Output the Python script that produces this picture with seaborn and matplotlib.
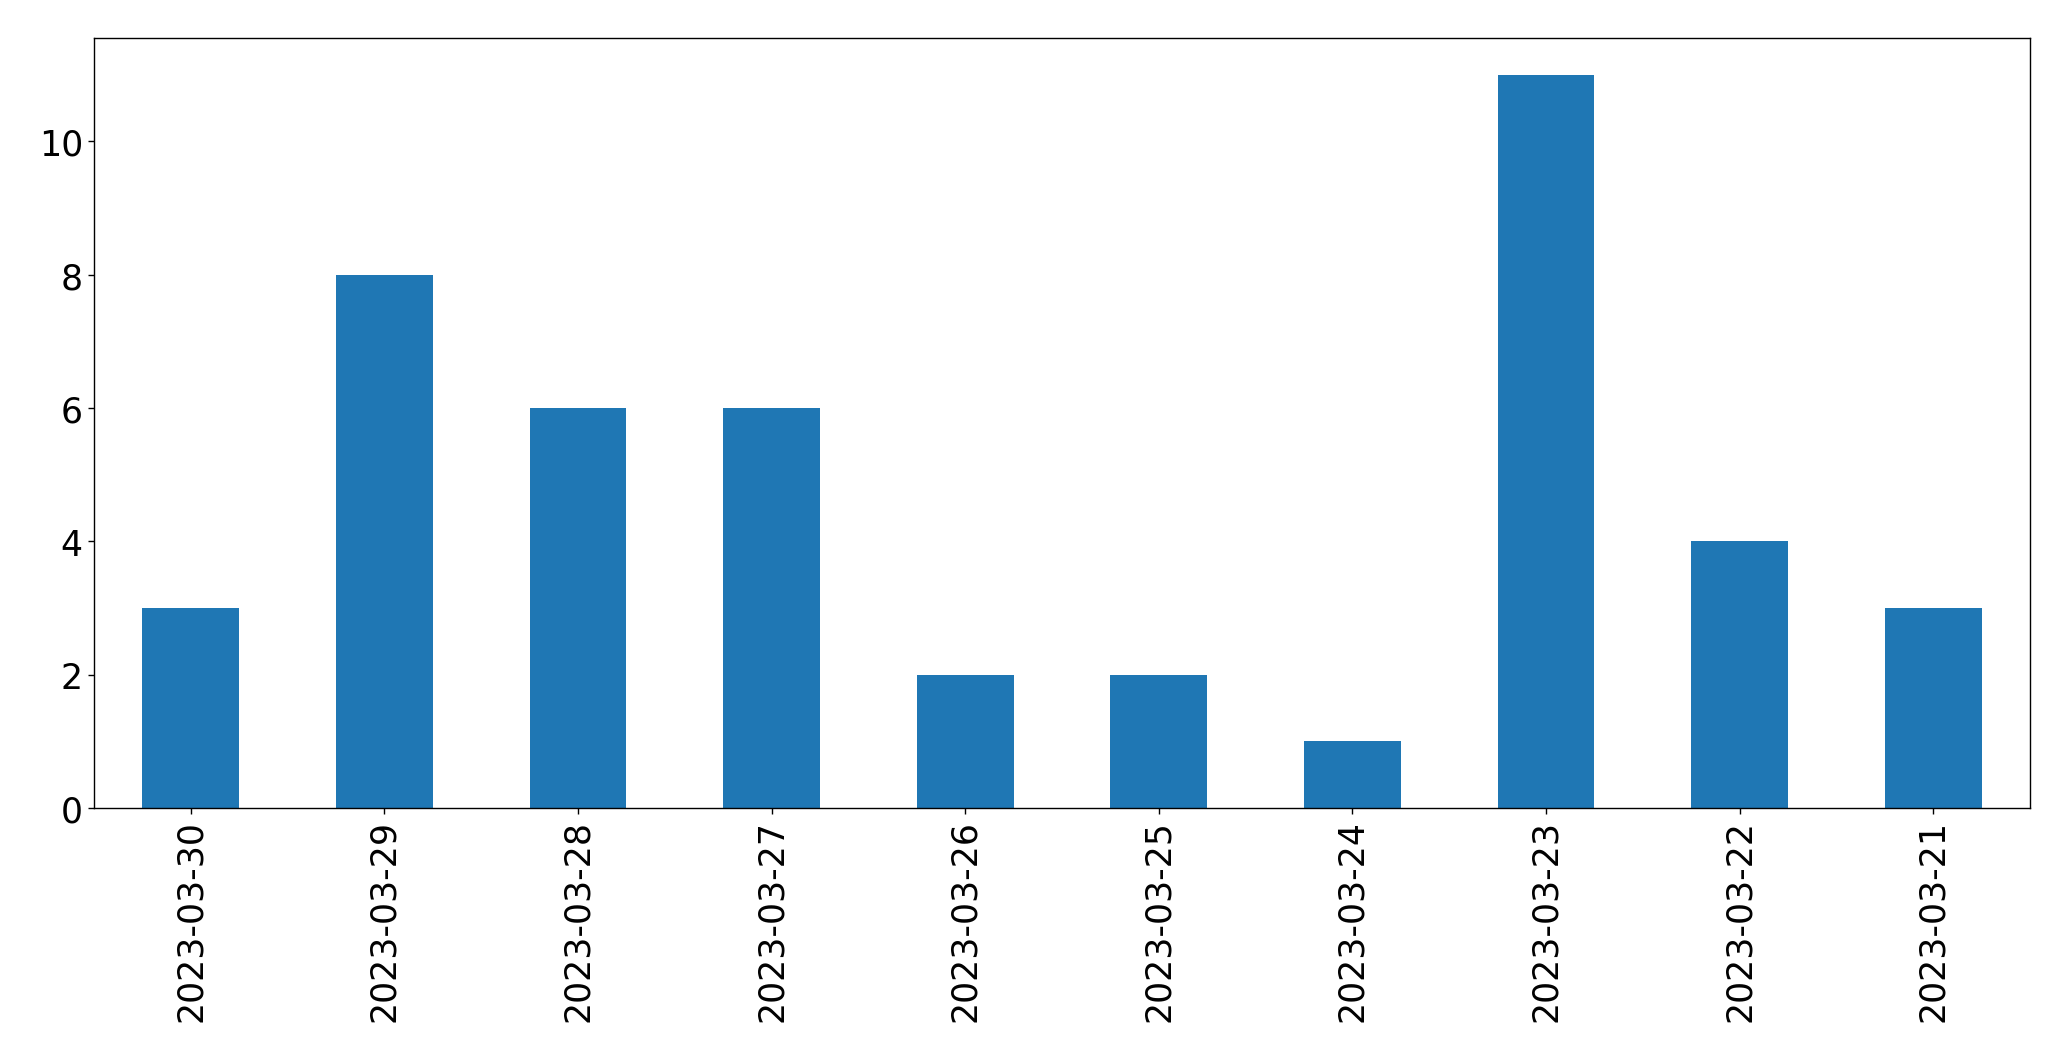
import matplotlib
matplotlib.use("Agg")
import matplotlib.pyplot as plt
import seaborn as sns
import pandas as pd

dates = ["2023-03-30", "2023-03-29", "2023-03-28", "2023-03-27", "2023-03-26",
         "2023-03-25", "2023-03-24", "2023-03-23", "2023-03-22", "2023-03-21"]
counts = [3, 8, 6, 6, 2, 2, 1, 11, 4, 3]

sns.set_style("white")
plt.rcParams['font.family'] = ['DejaVu Sans']
plt.rcParams['text.color'] = 'black'
plt.rcParams['xtick.color'] = 'black'
plt.rcParams['ytick.color'] = 'black'

df = pd.DataFrame({"date": dates, "count": counts})
fig = plt.figure(figsize=(20.71, 10.609), dpi=100)
ax = fig.add_axes([94/2071, 1-809/1061, (2030-94)/2071, (809-39)/1061])
sns.barplot(data=df, x="date", y="count", order=dates, color="#1f77b4",
            saturation=1, width=0.5, linewidth=0, ax=ax)
ax.set_xlim(-0.5, len(dates) - 0.5)
ax.set_ylim(0, max(counts) * 1.05)
ax.set_xlabel("")
ax.set_ylabel("")
ax.tick_params(axis="both", labelsize=25, length=4.5, width=1, colors="black",
               bottom=True, left=True)
for lbl in ax.get_xticklabels():
    lbl.set_rotation(90)
for s in ax.spines.values():
    s.set_color("black")
    s.set_linewidth(1)
fig.savefig("out.png", dpi=100)
